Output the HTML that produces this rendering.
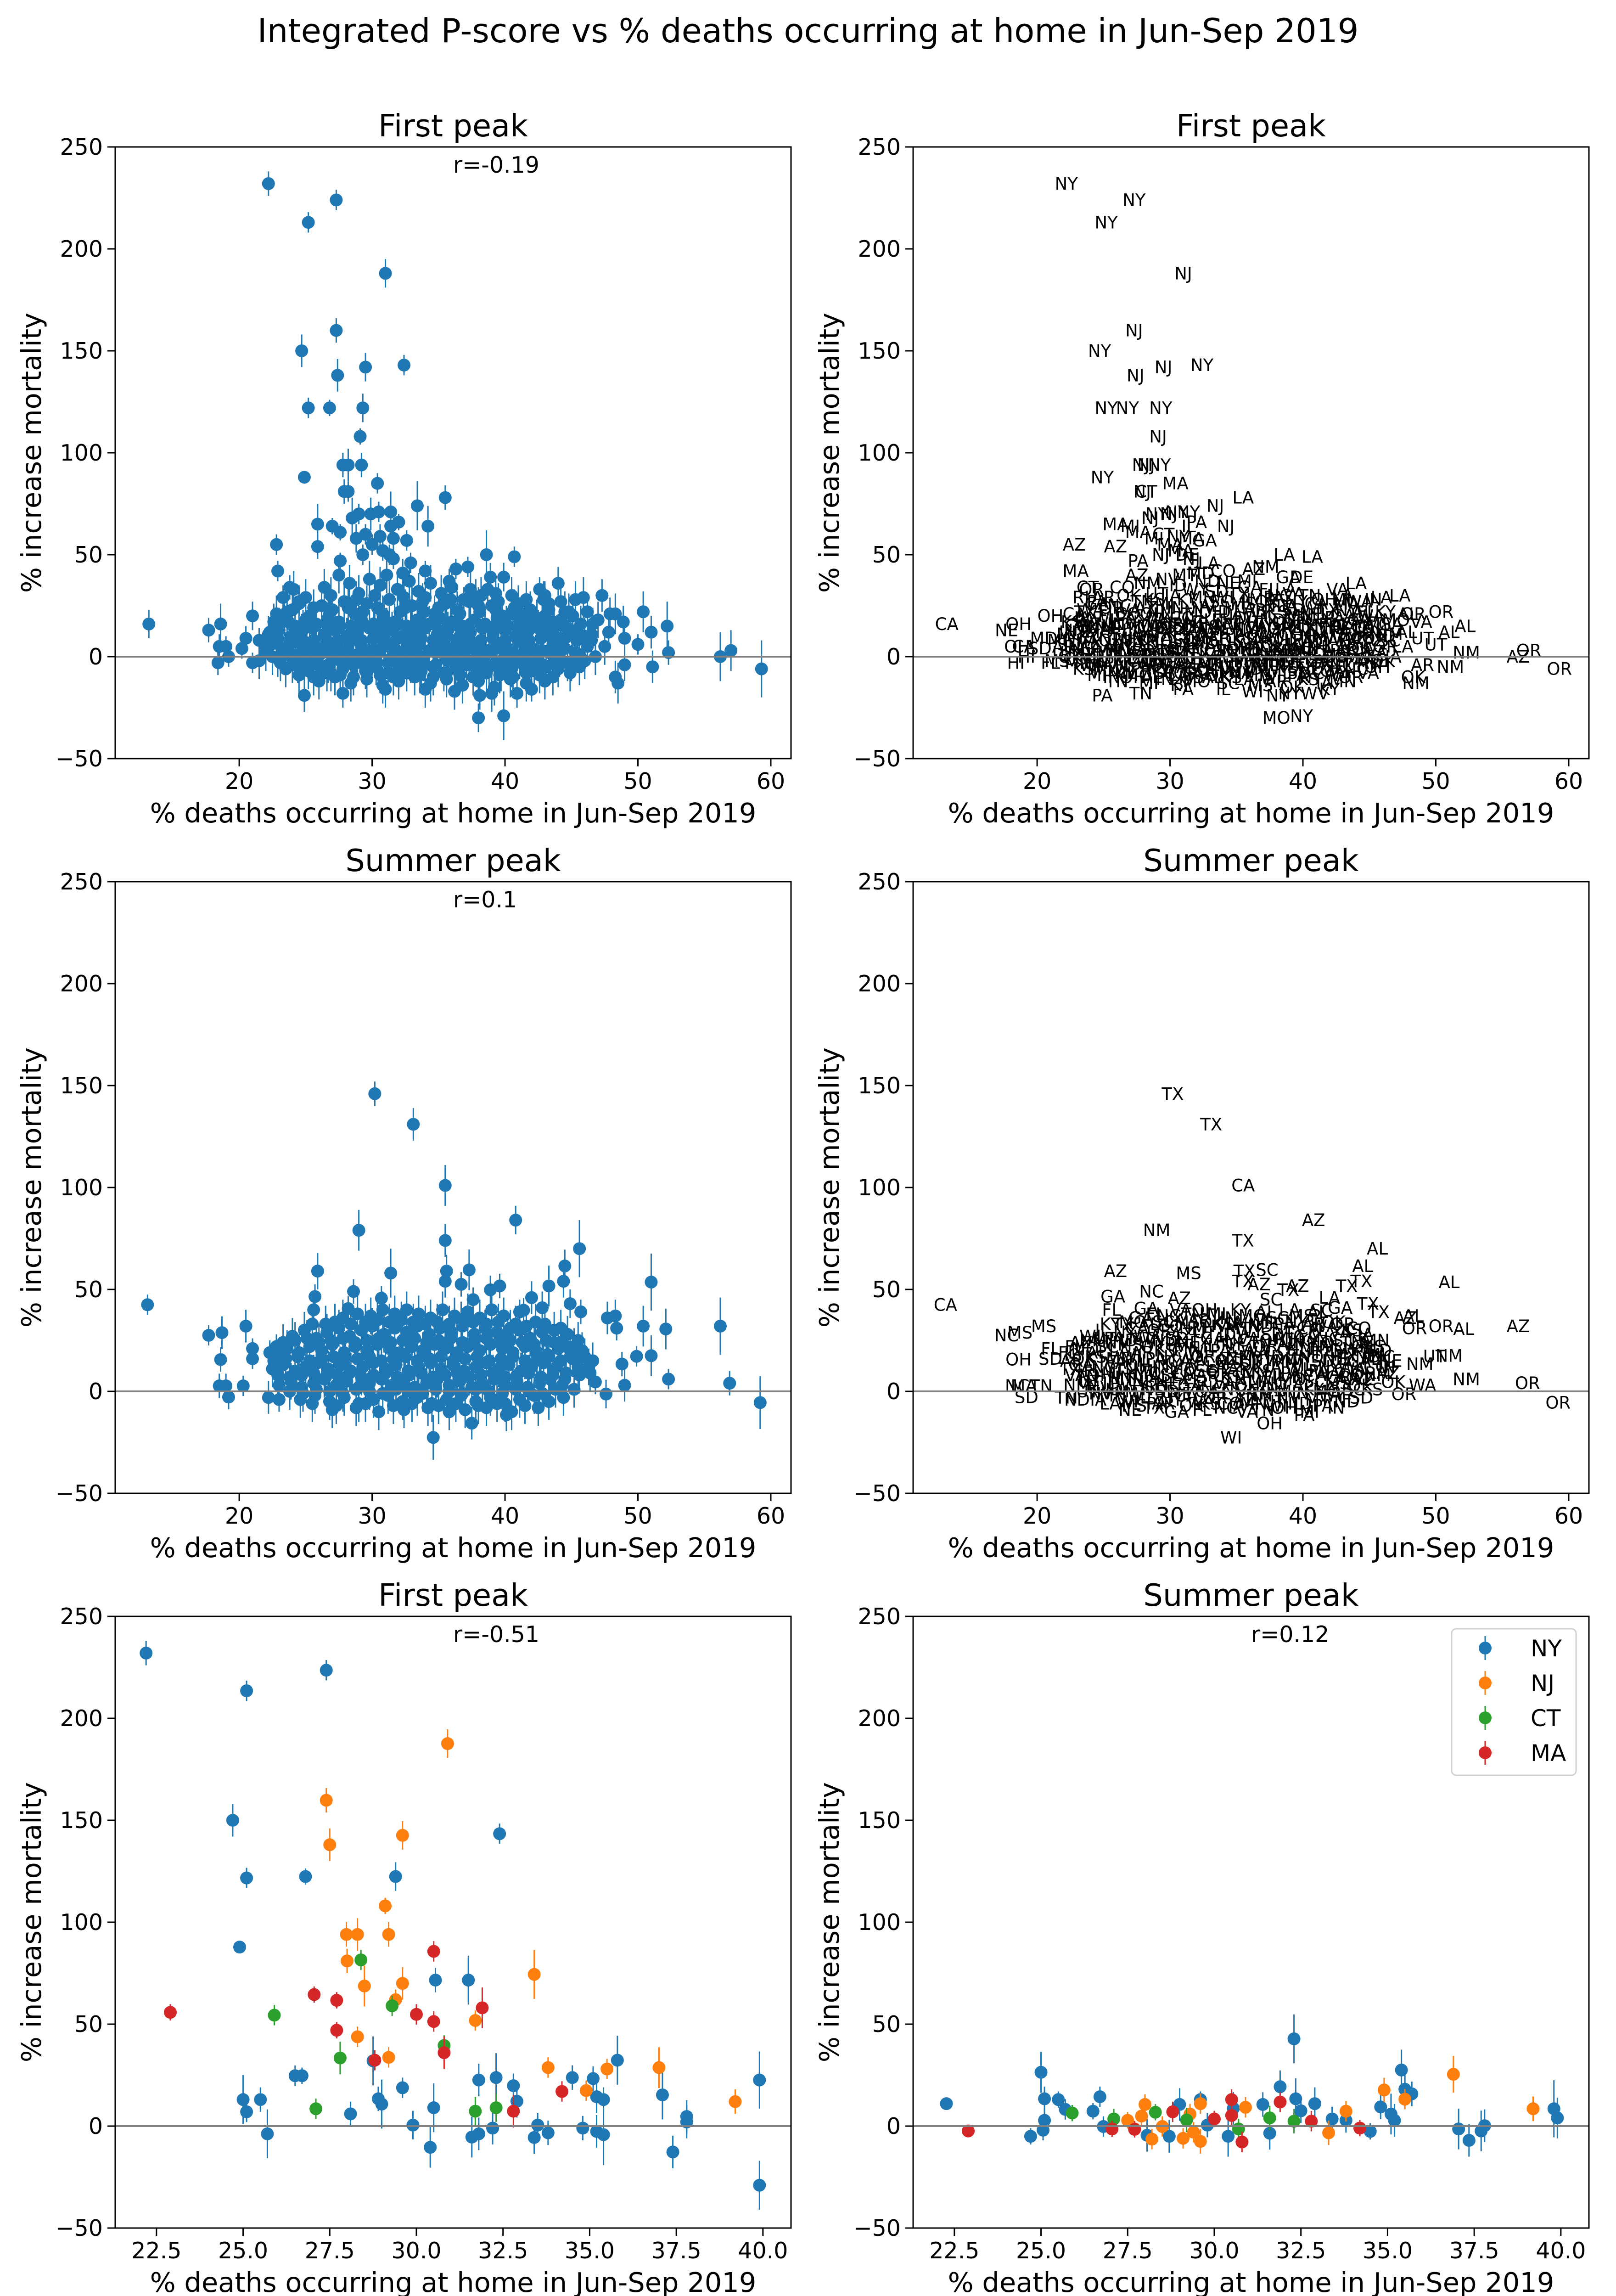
<!DOCTYPE html>
<html><head><meta charset="utf-8"><title>Integrated P-score vs % deaths at home</title>
<style>
html,body{margin:0;padding:0;background:#fff;width:3520px;height:5042px;overflow:hidden;}
svg{display:block;font-family:"DejaVu Sans","Liberation Sans",sans-serif;}
</style></head>
<body>
<svg id="fig" xmlns="http://www.w3.org/2000/svg" width="3520" height="5042" viewBox="0 0 3520 5042">
<rect x="0" y="0" width="3520" height="5042" fill="#fff"/>
<text x="1760" y="92" font-size="72" text-anchor="middle">Integrated P-score vs % deaths occurring at home in Jun-Sep 2019</text>
</svg>
<script>
// ---- tick labels ----
const yTicks = [-50, 0, 50, 100, 150, 200, 250];
const xTicksWide = [20, 30, 40, 50, 60];
const xTicksNarrow = [22.5, 25.0, 27.5, 30.0, 32.5, 35.0, 37.5, 40.0];
const blobStates = ["TX","GA","FL","NC","VA","TN","OH","MI","IN","KY","MO","AL","SC","LA","MS","AR","OK","KS","IA","MN","WI","IL","PA","NY","CA","WA","OR","CO","AZ","NM","UT","NV","ID","MT","WY","ND","SD","NE"];

// ---- First peak, all regions: [x, y, err, state] ----
const firstOutliers = [[13.2,16,7,'CA'],[17.7,13,6,'NE'],[18.6,16,10,'OH'],[18.4,-3,6,'HI'],[18.5,5,6,'OH'],[19.0,5,5,'CA'],[19.2,0,5,'HI'],[20.2,4,5,'SD'],[20.5,9,6,'MD'],[21.0,-3,5,'FL'],[21.0,20,7,'OH'],[21.5,8,6,'MI'],[22.3,12,6,'IN'],[22.2,232,6,'NY'],[22.8,55,5,'AZ'],[22.9,42,5,'MA'],[23.3,29,6,'RI'],[23.6,18,8,'PA'],[23.8,34,6,'CT'],[24.5,27,6,'PA'],[24.9,-19,8,'PA'],[24.7,150,8,'NY'],[25.2,213,5,'NY'],[25.2,122,5,'NY'],[24.9,88,3,'NY'],[25.9,65,10,'MA'],[25.9,54,6,'AZ'],[26.8,122,4,'NY'],[27.0,64,4,'MI'],[27.3,224,5,'NY'],[27.3,160,6,'NJ'],[27.4,138,8,'NJ'],[27.6,61,4,'MA'],[27.6,47,4,'PA'],[27.8,94,6,'NJ'],[28.2,94,8,'NJ'],[27.9,81,6,'NJ'],[28.2,81,5,'CT'],[28.5,68,10,'NJ'],[28.8,58,7,'MI'],[29.0,70,5,'NY'],[29.2,94,6,'NY'],[29.1,108,4,'NJ'],[29.3,122,7,'NY'],[29.5,142,7,'NJ'],[29.3,50,5,'NJ'],[29.5,60,5,'CT'],[29.9,70,8,'NJ'],[30.0,55,5,'MA'],[30.4,85,5,'MA'],[30.5,71,5,'NY'],[30.6,59,6,'NY'],[30.8,52,5,'MA'],[31.0,188,7,'NJ'],[31.3,50,5,'DE'],[31.4,71,10,'NY'],[31.4,64,6,'IL'],[31.6,58,10,'MA'],[31.6,48,5,'NJ'],[32.0,66,4,'PA'],[32.3,41,7,'MD'],[32.4,143,5,'NY'],[32.6,57,5,'GA'],[32.9,46,5,'LA'],[33.4,74,12,'NJ'],[34.2,64,10,'NJ'],[34.0,42,5,'CO'],[35.5,78,6,'LA'],[35.8,37,6,'MI'],[36.3,43,5,'AZ'],[37.2,44,5,'NM'],[36.9,28,6,'MS'],[38.6,50,12,'LA'],[38.9,39,7,'GA'],[39.9,39,7,'DE'],[38.7,33,6,'LA'],[40.7,49,5,'LA'],[38.0,-30,7,'MO'],[39.9,-29,12,'NY'],[42.6,33,6,'VA'],[43.0,30,7,'LA'],[43.3,26,6,'MA'],[44.0,36,8,'LA'],[44.5,22,10,'AL'],[45.9,29,10,'LA'],[46.6,16,8,'GA'],[47.3,30,8,'LA'],[47.9,21,8,'AL'],[48.3,21,10,'OR'],[48.9,17,8,'VA'],[48.3,-10,8,'OK'],[48.5,-13,10,'NM'],[49.0,-4,8,'AR'],[49.0,9,8,'UT'],[50.0,6,5,'UT'],[50.4,22,10,'OR'],[51.0,12,8,'AL'],[51.1,-5,8,'NM'],[52.2,15,12,'AL'],[52.3,2,6,'NM'],[56.2,0,12,'AZ'],[57.0,3,10,'OR'],[59.3,-6,14,'OR'],[38.1,-19,7,'NY'],[40.9,-18,7,'WV'],[42.0,-16,6,'KY'],[27.8,-18,7,'TN']];
const firstCluster = [[23.6,22],[24.5,26],[25.3,20],[26.2,25],[27.0,23],[27.9,27],[28.7,21],[29.6,26],[30.4,24],[31.3,28],[32.1,22],[33.0,25],[33.8,27],[34.7,21],[35.5,26],[36.4,23],[37.3,27],[38.1,22],[39.0,25],[39.8,20],[40.7,24],[41.5,21],[42.4,19],[43.3,23],[44.2,18],[45.1,20],
[24.1,33],[26.4,34],[27.5,40],[28.3,36],[29.0,31],[29.8,38],[30.6,35],[31.1,40],[31.9,33],[32.8,37],[33.5,32],[34.4,36],[35.2,31],[36.0,34],[37.4,33],[38.2,30],[39.3,31],[40.5,30],[41.6,28],[42.9,28],[45.3,28],[46.2,22],[47.0,18],[47.8,12],[46.5,8],[47.5,5],[21.5,-2],[22.0,5],[22.5,0],
[22.6,17],[23.4,19],[24.2,15],[25.0,18],[25.8,16],[26.7,19],[27.5,17],[28.4,15],[29.2,18],[30.1,16],[30.9,19],[31.7,17],[32.6,15],[33.4,18],[34.3,16],[35.1,19],[36.0,17],[36.8,15],[37.7,18],[38.5,16],[39.4,19],[40.2,15],[41.1,18],[41.9,16],[42.8,14],[43.6,17],[44.5,15],[45.4,13],
[22.2,11],[23.0,13],[23.9,10],[24.7,12],[25.5,14],[26.4,11],[27.2,13],[28.1,10],[28.9,12],[29.8,14],[30.6,11],[31.5,13],[32.3,10],[33.2,12],[34.0,14],[34.9,11],[35.7,13],[36.6,10],[37.4,12],[38.3,14],[39.1,11],[40.0,13],[40.8,10],[41.7,12],[42.5,14],[43.4,11],[44.2,9],[45.1,12],[46.0,10],
[22.4,6],[23.2,4],[24.1,7],[24.9,5],[25.8,3],[26.6,6],[27.5,4],[28.3,7],[29.2,5],[30.0,3],[30.9,6],[31.7,4],[32.6,7],[33.4,5],[34.3,3],[35.1,6],[36.0,4],[36.8,7],[37.7,5],[38.5,3],[39.4,6],[40.2,4],[41.1,7],[41.9,5],[42.8,3],[43.6,6],[44.5,4],[45.3,2],[46.2,5],
[22.9,-1],[23.7,1],[24.6,-2],[25.4,0],[26.3,2],[27.1,-1],[28.0,1],[28.8,-2],[29.7,0],[30.5,2],[31.4,-1],[32.2,1],[33.1,-2],[33.9,0],[34.8,2],[35.6,-1],[36.5,1],[37.3,-2],[38.2,0],[39.0,2],[39.9,-1],[40.7,1],[41.6,-2],[42.4,0],[43.3,2],[44.1,-1],[45.0,-3],[46.0,-2],
[23.5,-6],[24.4,-4],[25.2,-7],[26.1,-5],[26.9,-8],[27.8,-6],[28.6,-4],[29.5,-7],[30.3,-5],[31.2,-8],[32.0,-6],[32.9,-4],[33.7,-7],[34.6,-5],[35.4,-8],[36.3,-6],[37.1,-4],[38.0,-7],[38.8,-5],[39.7,-8],[40.5,-6],[41.4,-4],[42.2,-7],[43.1,-5],[44.0,-6],[44.9,-8],
[26.0,-12],[27.2,-10],[28.4,-13],[29.6,-11],[30.8,-14],[32.0,-12],[33.2,-10],[34.4,-13],[35.6,-11],[36.8,-14],[38.0,-12],[39.2,-15],[40.4,-11],[41.6,-13],[43.0,-12],[36.2,-17],[34.0,-16],[31.0,-16],[39.0,-18],
[22.8,21],[24.0,23],[25.6,24],[26.8,21],[28.2,24],[29.3,22],[30.8,21],[32.5,24],[33.9,22],[35.0,24],[36.6,21],[38.0,25],[39.3,23],[40.6,21],[41.9,23],[43.0,20],[44.8,22],
[22.9,9],[23.8,8],[24.7,9],[25.6,8],[26.5,9],[27.4,8],[28.3,9],[29.2,8],[30.1,9],[31.0,8],[31.9,9],[32.8,8],[33.7,9],[34.6,8],[35.5,9],[36.4,8],[37.3,9],[38.2,8],[39.1,9],[40.0,8],[40.9,9],[41.8,8],[42.7,9],[43.6,8],[44.5,9],[45.4,8],[46.5,11],
[22.0,2],[23.5,3],[24.4,1],[25.3,3],[26.2,4],[27.1,2],[28.0,3],[28.9,1],[29.8,3],[30.7,4],[31.6,2],[32.5,3],[33.4,1],[34.3,3],[35.2,4],[36.1,2],[37.0,3],[37.9,1],[38.8,3],[39.7,4],[40.6,2],[41.5,3],[42.4,1],[43.3,3],[44.2,4],[45.6,1],[46.8,0],
[23.1,-3],[24.0,-4],[24.9,-2],[25.8,-3],[26.7,-4],[27.6,-2],[28.5,-3],[29.4,-4],[30.3,-2],[31.2,-3],[32.1,-4],[33.0,-2],[33.9,-3],[34.8,-4],[35.7,-2],[36.6,-3],[37.5,-4],[38.4,-2],[39.3,-3],[40.2,-4],[41.1,-2],[42.0,-3],[42.9,-4],[43.8,-2],[44.7,-3],[45.6,-5],
[24.5,-9],[25.6,-10],[26.6,-8],[27.6,-9],[28.6,-10],[29.6,-8],[30.6,-9],[31.6,-10],[32.6,-8],[33.6,-9],[34.6,-10],[35.6,-8],[36.6,-9],[37.6,-10],[38.6,-8],[39.6,-9],[40.6,-10],[41.6,-8],[42.6,-9],[43.6,-10],
[23.0,15],[23.9,16],[24.8,14],[25.7,15],[26.6,16],[27.5,14],[28.4,15],[29.3,16],[30.2,14],[31.1,15],[32.0,16],[32.9,14],[33.8,15],[34.7,16],[35.6,14],[36.5,15],[37.4,16],[38.3,14],[39.2,15],[40.1,16],[41.0,14],[41.9,15],[42.8,16],[43.7,14],[44.6,15],[45.7,16],
[25.0,29],[26.9,30],[28.8,28],[30.2,30],[32.4,29],[34.0,29],[35.9,28],[37.8,29],[39.5,27],[41.0,26],[44.2,27]];

// ---- Summer peak, all regions ----
const summerOutliers = [[13.1,42.5,5,'CA'],[17.7,27.5,5,'NC'],[18.7,28.8,8,'MS'],[18.6,15.6,6,'OH'],[18.5,2.7,6,'NC'],[19.0,2.7,6,'MA'],[19.2,-2.8,6,'SD'],[20.3,2.7,5,'TN'],[20.5,32,8,'MS'],[21.0,21,5,'FL'],[21.0,16,5,'SD'],[22.3,19,6,'FL'],[22.8,22,6,'FL'],[22.2,-3,8,'TN'],[23.0,-4,6,'ND'],[25.9,59,9,'AZ'],[25.7,46.5,6,'GA'],[25.6,40,7,'FL'],[28.6,49,6,'NC'],[28.2,40.6,6,'GA'],[29.0,79,10,'NM'],[30.2,146,6,'TX'],[33.1,131,8,'TX'],[35.5,101,10,'CA'],[35.5,74,8,'TX'],[35.6,59,8,'TX'],[35.5,54,8,'TX'],[37.3,59.6,10,'SC'],[36.7,52.5,6,'AZ'],[31.4,58,12,'MS'],[30.7,45.7,6,'AZ'],[40.8,84,7,'AZ'],[45.6,70,14,'AL'],[44.5,61.5,8,'AL'],[44.4,54,8,'TX'],[43.3,51.7,10,'TX'],[42.0,46,8,'LA'],[42.8,41,8,'GA'],[41.1,39,6,'AL'],[51.0,53.6,14,'AL'],[50.4,32,10,'OR'],[52.1,30.6,10,'AL'],[51.0,17.5,10,'NM'],[52.3,6,5,'NM'],[56.2,32,14,'AZ'],[56.9,4,6,'OR'],[59.2,-5.5,13,'OR'],[34.6,-22.6,11,'WI'],[37.5,-15.6,8,'OH'],[40.1,-11.5,8,'PA'],[49.9,17.2,5,'UT'],[49.0,3,8,'WA'],[48.3,37,8,'AL'],[47.7,36,8,'AZ'],[48.4,31,6,'OR'],[48.8,13.4,6,'NM'],[46.8,4.6,6,'OK'],[47.6,-1.3,7,'OR'],[45.7,39,6,'TX'],[44.9,43,7,'TX'],[39.6,51.7,6,'AZ'],[38.9,49.8,7,'TX'],[41.4,39.8,6,'SC'],[37.6,45,6,'SC']];
const summerCluster = [[26.5,33],[27.8,36],[28.9,38],[29.9,37],[30.8,40],[31.7,38],[32.6,40],[33.5,38],[34.4,36],[35.3,40],[36.2,37],[37.2,39],[38.1,36],[39.0,40],[39.9,37],[40.8,33],[42.3,34],[43.7,30],[44.7,28],[45.5,25],
[24.0,27],[24.9,30],[25.8,26],[26.6,29],[27.5,31],[28.3,27],[29.2,30],[30.0,32],[30.9,28],[31.7,31],[32.6,29],[33.4,32],[34.3,28],[35.1,31],[36.0,29],[36.8,32],[37.7,28],[38.5,31],[39.4,29],[40.2,27],[41.1,30],[41.9,26],[42.8,29],[43.7,24],[44.6,22],[45.5,18],[46.3,12],
[22.8,18],[23.6,21],[24.5,19],[25.3,22],[26.2,20],[27.0,23],[27.9,19],[28.7,22],[29.6,20],[30.4,23],[31.3,21],[32.1,19],[33.0,22],[33.8,20],[34.7,23],[35.5,21],[36.4,19],[37.2,22],[38.1,20],[38.9,23],[39.8,21],[40.6,19],[41.5,22],[42.3,20],[43.2,18],[44.0,21],[44.9,17],[45.8,20],[46.6,15],
[22.5,11],[23.3,13],[24.2,10],[25.0,12],[25.9,14],[26.7,11],[27.6,13],[28.4,10],[29.3,12],[30.1,14],[31.0,11],[31.8,13],[32.7,10],[33.5,12],[34.4,14],[35.2,11],[36.1,13],[36.9,10],[37.8,12],[38.6,14],[39.5,11],[40.3,13],[41.2,10],[42.0,12],[42.9,14],[43.7,11],[44.6,9],[45.5,12],[46.4,9],
[23.0,3],[23.9,5],[24.7,2],[25.6,4],[26.4,6],[27.3,3],[28.1,5],[29.0,2],[29.8,4],[30.7,6],[31.5,3],[32.4,5],[33.2,2],[34.1,4],[34.9,6],[35.8,3],[36.6,5],[37.5,2],[38.3,4],[39.2,6],[40.0,3],[40.9,5],[41.7,2],[42.6,4],[43.4,6],[44.3,3],[45.2,1],
[24.6,-4],[25.7,-2],[26.8,-5],[27.9,-3],[29.0,-6],[30.1,-4],[31.2,-2],[32.3,-5],[33.4,-3],[34.5,-6],[35.6,-4],[36.7,-2],[37.8,-5],[38.9,-3],[40.0,-6],[41.1,-4],[42.2,-2],[43.3,-5],[44.4,-3],
[27.0,-9],[28.8,-8],[30.5,-10],[32.4,-9],[34.2,-8],[35.8,-10],[37.0,-9],[38.6,-8],[40.5,-10],[42.5,-8],
[25.5,33],[27.2,34],[28.4,33],[29.5,34],[30.4,35],[31.3,34],[32.2,35],[33.1,34],[34.0,33],[34.9,34],[35.8,33],[36.7,35],[37.6,34],[38.6,33],[39.5,34],[40.4,31],[41.6,32],[43.0,33],[44.2,31],
[23.3,24],[24.2,25],[25.1,26],[26.0,24],[26.9,25],[27.8,26],[28.7,24],[29.6,25],[30.5,26],[31.4,24],[32.3,25],[33.2,26],[34.1,24],[35.0,25],[35.9,26],[36.8,24],[37.7,25],[38.6,26],[39.5,24],[40.4,25],[41.3,24],[42.2,23],[43.1,25],[44.2,24],[45.2,22],
[22.6,15],[23.5,16],[24.4,17],[25.3,15],[26.2,16],[27.1,17],[28.0,15],[28.9,16],[29.8,17],[30.7,15],[31.6,16],[32.5,17],[33.4,15],[34.3,16],[35.2,17],[36.1,15],[37.0,16],[37.9,17],[38.8,15],[39.7,16],[40.6,17],[41.5,15],[42.4,16],[43.3,17],[44.2,15],[45.1,16],[46.0,17],
[22.9,8],[23.8,7],[24.7,8],[25.6,9],[26.5,7],[27.4,8],[28.3,9],[29.2,7],[30.1,8],[31.0,9],[31.9,7],[32.8,8],[33.7,9],[34.6,7],[35.5,8],[36.4,9],[37.3,7],[38.2,8],[39.1,9],[40.0,7],[40.9,8],[41.8,9],[42.7,7],[43.6,8],[44.5,6],[45.6,8],
[23.8,0],[24.8,-1],[25.8,1],[26.8,0],[27.8,-1],[28.8,1],[29.8,0],[30.8,-1],[31.8,1],[32.8,0],[33.8,-1],[34.8,1],[35.8,0],[36.8,-1],[37.8,1],[38.8,0],[39.8,-1],[40.8,1],[41.8,0],[42.8,-1],[43.8,1],
[25.5,-6],[27.3,-7],[29.5,-6],[31.6,-7],[33.0,-6],[35.0,-7],[36.3,-6],[38.0,-7],[39.4,-6],[41.5,-7]];

// ---- Northeast, first peak: [x, y, err] ----
const neFirstNY = [[22.2,232,6],[25.1,213.5,5],[27.4,223.6,5],[24.7,150,8],[25.1,121.7,5],[26.8,122.4,4],[24.9,87.8,3],[29.4,122.4,7],[32.4,143.4,5],[26.5,24.7,5],[26.7,24.7,4],[25.0,13,12],[25.1,7,5],[25.5,13,6],[25.7,-3.8,12],[28.1,6,6],[28.75,32,12],[28.9,13.4,6],[29.0,10.8,12],[29.6,18.8,5],[29.9,0.5,7],[30.4,-10.4,10],[30.5,9,12],[30.55,71.6,6],[31.5,71.6,12],[31.6,-5.4,10],[31.8,-3.8,8],[31.8,22.6,8],[32.2,-1,8],[32.3,23.8,12],[32.8,19.8,6],[32.9,12.2,8],[33.4,-5.6,8],[33.5,0.5,6],[33.8,-3.3,6],[34.5,23.8,6],[34.8,-1,6],[35.1,23.3,6],[35.2,14.4,8],[35.2,-2.6,8],[35.4,-4.2,15],[35.4,13,6],[35.8,32.3,12],[37.1,15.3,12],[37.4,-12.7,8],[37.8,4.7,8],[37.8,2,8],[39.9,22.6,14],[39.9,-29,12]];
const neFirstNJ = [[27.4,159.8,6],[27.5,138,8],[30.9,187.6,7],[29.6,142.6,7],[29.1,108,4],[29.2,94,6],[27.98,94,6],[28.3,94,8],[28.0,81,6],[28.5,68.7,10],[29.6,70,8],[29.4,62,5],[28.3,43.8,5],[29.2,33.7,5],[31.7,51.8,5],[33.4,74.4,12],[33.8,28.7,5],[34.9,17.4,5],[35.5,28,5],[37.0,28.7,10],[39.2,12,6]];
const neFirstCT = [[25.9,54.4,5],[27.8,33.4,8],[27.1,8.5,5],[28.4,81.5,5],[29.3,59,5],[30.8,39.5,5],[31.7,7.3,7],[32.3,9,7]];
const neFirstMA = [[22.9,55.8,4],[27.05,64.5,4],[27.7,61.7,4],[27.7,47,4],[28.8,32.3,5],[30.0,54.8,5],[30.5,51.3,5],[30.5,85.7,5],[30.8,36,8],[31.9,58,10],[32.8,7.3,8],[34.2,17,5]];

// ---- Northeast, summer peak ----
const neSummerNY = [[22.27,11,3],[24.7,-5,4],[25.0,26.4,10],[25.1,13.4,6],[25.1,2.8,6],[25.06,-2,5],[25.5,13,4],[25.7,8.2,5],[26.5,7.3,4],[26.7,14.4,5],[26.8,-0.2,5],[28.06,-4.5,8],[28.7,-5,8],[29.0,10.6,8],[29.6,13,4],[29.8,0.5,6],[30.4,-5,10],[30.55,8.7,8],[31.4,10.6,6],[31.6,-3.5,8],[31.9,19.3,8],[32.3,42.8,12],[32.35,13.4,10],[32.5,7.5,6],[32.9,11,8],[33.4,3.5,6],[33.8,2.8,6],[34.5,-2.6,4],[34.8,9.4,6],[35.1,5.9,10],[35.2,2.8,8],[35.4,27.5,10],[35.5,18.1,8],[35.7,15.8,6],[37.05,-1.4,10],[37.35,-7,8],[37.7,-2.4,10],[37.8,0.2,8],[39.8,8.5,14],[39.9,4,10]];
const neSummerNJ = [[27.5,2.8,4],[27.7,-1.4,4],[27.9,4.9,5],[28.0,10.6,5],[28.2,-6.4,5],[28.5,-0.2,5],[29.1,-6,5],[29.3,5.9,5],[29.4,-3,5],[29.6,11,5],[29.6,-7.5,6],[30.9,9.2,5],[33.3,-3.3,6],[33.8,7.3,5],[34.9,17.7,6],[35.5,13.2,5],[36.9,25.4,9],[39.2,8.5,6]];
const neSummerCT = [[25.9,6.4,4],[27.1,3.5,5],[28.3,6.8,4],[29.2,3,6],[30.7,-1.4,5],[31.6,4,6],[32.3,2.4,6]];
const neSummerMA = [[22.9,-2.4,3],[27.05,-1.4,4],[27.7,-1.6,4],[28.8,7,5],[30.0,3.5,4],[30.5,13,5],[30.5,5.2,5],[30.8,-7.8,5],[31.9,11.8,5],[32.8,2.4,5],[34.2,-1,4]];

const C = {NY:'#1f77b4', NJ:'#ff7f0e', CT:'#2ca02c', MA:'#d62728'};
const NS = 'http://www.w3.org/2000/svg';
const fig = document.getElementById('fig');
const AX_W = 1472, AX_H = 1332;
const COLS = [251, 1989];
const ROWS = [320, 1920, 3520];
const CLUSTER_ERR = 9;

function mk(tag, attrs, parent){
  const e = document.createElementNS(NS, tag);
  for (const k in attrs) e.setAttribute(k, attrs[k]);
  (parent || fig).appendChild(e);
  return e;
}

function makeAxes(name, left, top, xmin, xmax, xTicks, xFmt, title, rText){
  const g = mk('g', {});
  
  
  const sx = v => left + (v - xmin) / (xmax - xmin) * AX_W;
  const sy = v => top + (250 - v) / 300 * AX_H;
  const t = mk('text', {x: left + AX_W/2, y: top - 23, 'font-size': 67, 'text-anchor': 'middle'}, g);
  t.textContent = title;
  
  
  if (rText){
    const r = mk('text', {x: left + AX_W/2, y: top + 56, 'font-size': 49}, g);
    r.textContent = rText;
    
    
  }
  yTicks.forEach(v => {
    mk('line', {x1: left - 17, x2: left, y1: sy(v), y2: sy(v), stroke: '#000', 'stroke-width': 3}, g);
    const tl = mk('text', {x: left - 27, y: sy(v) + 17, 'font-size': 49, 'text-anchor': 'end'}, g);
    tl.textContent = v < 0 ? '\u2212' + Math.abs(v) : String(v);
    
    
  });
  xTicks.forEach(v => {
    mk('line', {x1: sx(v), x2: sx(v), y1: top + AX_H, y2: top + AX_H + 17, stroke: '#000', 'stroke-width': 3}, g);
    const tl = mk('text', {x: sx(v), y: top + AX_H + 66, 'font-size': 49, 'text-anchor': 'middle'}, g);
    tl.textContent = xFmt(v);
    
    
  });
  const xl = mk('text', {x: left + AX_W/2, y: top + AX_H + 139, 'font-size': 59, 'text-anchor': 'middle'}, g);
  xl.textContent = '% deaths occurring at home in Jun-Sep 2019';
  
  
  const yl = mk('text', {x: 0, y: 0, 'font-size': 59, 'text-anchor': 'middle', transform: `translate(${left - 162},${top + AX_H/2}) rotate(-90)`}, g);
  yl.textContent = '% increase mortality';
  
  
  const plot = mk('g', {}, g);
  
  
  return {g, plot, sx, sy, left, top};
}

function finishAxes(ax){
  const zl = mk('line', {x1: ax.left, x2: ax.left + AX_W, y1: ax.sy(0), y2: ax.sy(0), stroke: '#808080', 'stroke-width': 4}, ax.g);
  
  
  const fr = mk('rect', {x: ax.left, y: ax.top, width: AX_W, height: AX_H, fill: 'none', stroke: '#000', 'stroke-width': 3}, ax.g);
  
  
}

function drawPoint(ax, x, y, e, color, name){
  const g = mk('g', {}, ax.plot);
  
  
  mk('line', {x1: ax.sx(x), x2: ax.sx(x), y1: ax.sy(y - e), y2: ax.sy(y + e), stroke: color, 'stroke-width': 3}, g);
  mk('circle', {cx: ax.sx(x), cy: ax.sy(y), r: 14, fill: color}, g);
}

function drawLabel(ax, x, y, label){
  const t = mk('text', {x: ax.sx(x), y: ax.sy(y) + 13, 'font-size': 37, 'text-anchor': 'middle'}, ax.plot);
  t.textContent = label;
  
  
}

const WX0 = 10.67, WX1 = 61.52, NX0 = 21.31, NX1 = 40.81;
const fmtInt = v => String(v);
const fmtDec = v => v.toFixed(1);

function scatterRow(row, outliers, cluster, title, rText){
  const a = makeAxes('scatter-' + title.toLowerCase().replace(' ', '-'), COLS[0], ROWS[row], WX0, WX1, xTicksWide, fmtInt, title, rText);
  cluster.forEach(p => drawPoint(a, p[0], p[1], CLUSTER_ERR, C.NY, 'point'));
  outliers.forEach(p => drawPoint(a, p[0], p[1], p[2], C.NY, 'point'));
  finishAxes(a);
  const b = makeAxes('labels-' + title.toLowerCase().replace(' ', '-'), COLS[1], ROWS[row], WX0, WX1, xTicksWide, fmtInt, title, null);
  cluster.forEach((p, i) => drawLabel(b, p[0], p[1], blobStates[i % blobStates.length]));
  outliers.forEach(p => drawLabel(b, p[0], p[1], p[3]));
  finishAxes(b);
}

scatterRow(0, firstOutliers, firstCluster, 'First peak', 'r=-0.19');
scatterRow(1, summerOutliers, summerCluster, 'Summer peak', 'r=0.1');

const ne1 = makeAxes('northeast-first-peak', COLS[0], ROWS[2], NX0, NX1, xTicksNarrow, fmtDec, 'First peak', 'r=-0.51');
[['NY', neFirstNY], ['NJ', neFirstNJ], ['CT', neFirstCT], ['MA', neFirstMA]].forEach(([s, arr]) =>
  arr.forEach(p => drawPoint(ne1, p[0], p[1], p[2], C[s], 'point-' + s.toLowerCase())));
finishAxes(ne1);

const ne2 = makeAxes('northeast-summer-peak', COLS[1], ROWS[2], NX0, NX1, xTicksNarrow, fmtDec, 'Summer peak', 'r=0.12');
[['NY', neSummerNY], ['NJ', neSummerNJ], ['CT', neSummerCT], ['MA', neSummerMA]].forEach(([s, arr]) =>
  arr.forEach(p => drawPoint(ne2, p[0], p[1], p[2], C[s], 'point-' + s.toLowerCase())));
finishAxes(ne2);

// legend
const lg = mk('g', {});


mk('rect', {x: 3162, y: 3547, width: 271, height: 319, rx: 10, fill: '#fff', stroke: '#d0d0d0', 'stroke-width': 3}, lg);
['NY', 'NJ', 'CT', 'MA'].forEach((s, i) => {
  const y = 3589 + i * 76;
  const e = mk('g', {}, lg);
  
  
  mk('line', {x1: 3235, x2: 3235, y1: y - 26, y2: y + 26, stroke: C[s], 'stroke-width': 3}, e);
  mk('circle', {cx: 3235, cy: y, r: 14, fill: C[s]}, e);
  const t = mk('text', {x: 3334, y: y + 18, 'font-size': 50}, e);
  t.textContent = s;
});
</script>
</body></html>
